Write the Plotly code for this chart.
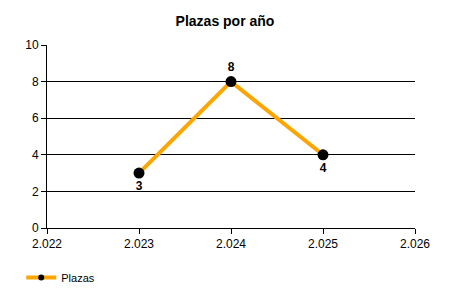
import plotly.graph_objects as go

years = [2023, 2024, 2025]
plazas = [3, 8, 4]
label_pos = ["bottom center", "top center", "bottom center"]
x_ticks = [2022, 2023, 2024, 2025, 2026]
x_tick_labels = ["2.022", "2.023", "2.024", "2.025", "2.026"]
y_ticks = [0, 2, 4, 6, 8, 10]

fig = go.Figure()
fig.add_trace(go.Scatter(
    x=years, y=plazas, mode="lines+markers+text", name="Plazas",
    line=dict(color="#FFA500", width=4),
    marker=dict(color="black", size=11),
    text=[str(v) for v in plazas], textposition=label_pos,
    textfont=dict(family="Liberation Sans, Arial", size=12, color="black", weight="bold"),
    cliponaxis=False, showlegend=False,
))
# legend-only entry with a small marker, as in the reference
fig.add_trace(go.Scatter(
    x=[None], y=[None], mode="lines+markers", name="Plazas",
    line=dict(color="#FFA500", width=4),
    marker=dict(color="black", size=6),
    showlegend=True,
))

fig.update_layout(
    width=450, height=300,
    margin=dict(l=47, r=35, t=45, b=72, autoexpand=False),
    paper_bgcolor="white", plot_bgcolor="white",
    font=dict(family="Liberation Sans, Arial", size=12, color="black"),
    title=dict(text="<b>Plazas por año</b>", x=0.5, xanchor="center", y=0.93, yanchor="middle",
               font=dict(size=14, color="black")),
    xaxis=dict(range=[2022, 2026], tickvals=x_ticks, ticktext=x_tick_labels,
               showgrid=False, zeroline=False, showline=True, linecolor="black", linewidth=1,
               ticks="outside", ticklen=5, tickcolor="black", fixedrange=True),
    yaxis=dict(range=[0, 10], tickvals=y_ticks, showgrid=True, gridcolor="black", gridwidth=1,
               zeroline=False, showline=True, linecolor="black", linewidth=1,
               ticks="outside", ticklen=5, tickcolor="black"),
    showlegend=True,
    legend=dict(x=-0.07, y=-0.27, xanchor="left", yanchor="middle", font=dict(size=11),
                itemwidth=30, bgcolor="rgba(0,0,0,0)"),
)

fig.write_html("out.html")
